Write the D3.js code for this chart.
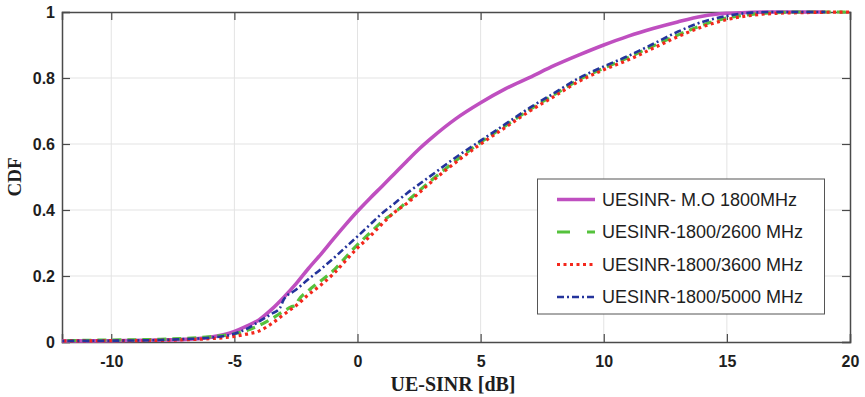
<!DOCTYPE html>
<html><head><meta charset="utf-8">
<script src="https://cdn.jsdelivr.net/npm/d3@7"></script>
<style>body{margin:0;background:#fff}svg{display:block}</style>
</head><body>
<svg id="chart" width="865" height="397"></svg>
<script>
// ---- data ----
const seriesNames = ["UESINR- M.O 1800MHz","UESINR-1800/2600 MHz","UESINR-1800/3600 MHz","UESINR-1800/5000 MHz"];
const xMO = [-13,-12,-10,-8,-7,-6,-5,-4.5,-4,-3.5,-3,-2.5,-2,-1.5,-1,-0.5,0,0.5,1,1.5,2,2.5,3,4,5,6,7,8,9,10,11,12,13,14,15,16,17,19];
const yMO = [0.002,0.003,0.004,0.006,0.008,0.014,0.032,0.048,0.067,0.098,0.135,0.176,0.222,0.265,0.31,0.354,0.396,0.435,0.472,0.51,0.548,0.585,0.618,0.677,0.725,0.767,0.802,0.838,0.87,0.9,0.927,0.95,0.97,0.987,0.996,0.999,1.0,1.0];
const x2600 = [-13,-12,-10,-8,-7,-6,-5,-4.5,-4,-3.5,-3,-2.7,-2.5,-2.4,-2,-1.5,-1.24,-1,-0.5,0,0.5,1,1.6,2,3,4,5,6,7,8,9,10,11,12,13,14,15,16,17,18,20];
const y2600 = [0.003,0.004,0.006,0.008,0.011,0.016,0.025,0.035,0.05,0.07,0.093,0.106,0.112,0.126,0.155,0.185,0.2,0.215,0.255,0.295,0.33,0.365,0.398,0.425,0.49,0.55,0.605,0.655,0.705,0.75,0.795,0.83,0.862,0.897,0.93,0.96,0.982,0.993,0.998,1.0,1.0];
const x3600 = [-13,-12,-10,-8,-7,-6,-5,-4.5,-4,-3.5,-3,-2.5,-2,-1.5,-1,-0.5,0,0.5,1,1.5,2,3,4,5,6,7,8,9,10,11,12,13,14,15,16,17,18,20];
const y3600 = [0.002,0.003,0.004,0.005,0.007,0.01,0.017,0.024,0.033,0.055,0.083,0.11,0.143,0.172,0.205,0.245,0.285,0.32,0.358,0.393,0.42,0.485,0.545,0.6,0.65,0.7,0.745,0.79,0.825,0.855,0.89,0.925,0.955,0.977,0.99,0.996,0.998,1.0];
const x5000 = [-13,-12,-10,-8,-7,-6,-5,-4.5,-4,-3.5,-3.15,-3.0,-2.5,-2,-1.5,-1,-0.5,0,0.5,1,1.5,2,3,4,5,6,7,8,9,10,11,12,13,14,15,16,17,19];
const y5000 = [0.002,0.003,0.004,0.006,0.009,0.013,0.025,0.04,0.062,0.085,0.103,0.128,0.158,0.19,0.22,0.252,0.286,0.32,0.355,0.39,0.42,0.45,0.505,0.56,0.61,0.66,0.71,0.755,0.8,0.835,0.867,0.903,0.94,0.97,0.988,0.998,1.0,1.0];
const xTicks = [-10,-5,0,5,10,15,20];
const yTicks = [0,0.2,0.4,0.6,0.8,1];
const xLabel = "UE-SINR [dB]";
const yLabel = "CDF";

// ---- layout ----
const svg = d3.select("#chart");
const L = 62, R = 850, T = 12, B = 342;
const x = d3.scaleLinear().domain([-12,20]).range([L,R]);
const y = d3.scaleLinear().domain([0,1]).range([B,T]);

svg.append("defs").append("clipPath").attr("id","clip")
  .append("rect").attr("x",L).attr("y",T-2).attr("width",R-L).attr("height",B-T+4);

// grid
const grid = svg.append("g");
grid.selectAll(".gx").data(xTicks.filter(d=>d>-12&&d<20)).enter().append("line")
  .attr("x1",d=>x(d)).attr("x2",d=>x(d)).attr("y1",T).attr("y2",B)
  .attr("stroke","#e3e3e3").attr("stroke-width",1);
grid.selectAll(".gy").data(yTicks.filter(d=>d>0&&d<1)).enter().append("line")
  .attr("y1",d=>y(d)).attr("y2",d=>y(d)).attr("x1",L).attr("x2",R)
  .attr("stroke","#e3e3e3").attr("stroke-width",1);

// axes
const axisColor = "#4a4a4a";
const fmtY = d => d===0?"0":(d===1?"1":d3.format(".1f")(d));
const gx = svg.append("g").attr("transform",`translate(0,${B})`)
  .call(d3.axisBottom(x).tickValues(xTicks).tickSize(-8).tickPadding(14).tickFormat(d=>String(d)));
const gy = svg.append("g").attr("transform",`translate(${L},0)`)
  .call(d3.axisLeft(y).tickValues(yTicks).tickSize(-8).tickPadding(7).tickFormat(fmtY));
const gxt = svg.append("g").attr("transform",`translate(0,${T})`)
  .call(d3.axisTop(x).tickValues(xTicks).tickSize(-8).tickFormat(""));
const gyr = svg.append("g").attr("transform",`translate(${R},0)`)
  .call(d3.axisRight(y).tickValues(yTicks).tickSize(-8).tickFormat(""));
[gx,gy,gxt,gyr].forEach(g=>{
  g.select(".domain").attr("stroke",axisColor).attr("stroke-width",1.5);
  g.selectAll(".tick line").attr("stroke",axisColor).attr("stroke-width",1.2);
  g.selectAll("text").attr("font-family","'Liberation Sans', Arial, sans-serif")
    .attr("font-weight","bold").attr("font-size",16).attr("fill","#1e1e1e");
});

// lines
const line = d3.line().x(d=>x(d[0])).y(d=>y(d[1])).curve(d3.curveMonotoneX);
const series = [
  {name:seriesNames[0], xs:xMO, ys:yMO, color:"#bf4fc0", w:3.6, dash:null, legDash:null},
  {name:seriesNames[1], xs:x2600, ys:y2600, color:"#55c23c", w:3.2, dash:"9,6", legDash:"13,17"},
  {name:seriesNames[2], xs:x3600, ys:y3600, color:"#f4271c", w:3.2, dash:"3,3.5", legDash:"3,3.5"},
  {name:seriesNames[3], xs:x5000, ys:y5000, color:"#24349c", w:2.6, dash:"7,3,2,3", legDash:"7,3,2,3"}
];
const plot = svg.append("g").attr("clip-path","url(#clip)");
series.forEach(s=>{
  plot.append("path").datum(s.xs.map((v,i)=>[v,s.ys[i]]))
    .attr("d",line).attr("fill","none").attr("stroke",s.color)
    .attr("stroke-width",s.w).attr("stroke-dasharray",s.dash);
});

// axis labels
svg.append("text").attr("x",(L+R)/2-3).attr("y",391).attr("text-anchor","middle")
  .attr("font-family","'Liberation Serif','Times New Roman',serif").attr("font-weight","bold")
  .attr("font-size",20).attr("fill","#1e1e1e").text(xLabel);
svg.append("text").attr("transform",`translate(21,${(T+B)/2}) rotate(-90)`).attr("text-anchor","middle")
  .attr("font-family","'Liberation Serif','Times New Roman',serif").attr("font-weight","bold")
  .attr("font-size",19).attr("fill","#1e1e1e").text(yLabel);

// legend
const lg = svg.append("g");
lg.append("rect").attr("x",537.5).attr("y",179).attr("width",287).attr("height",135)
  .attr("fill","#fff").attr("stroke","#555").attr("stroke-width",1);
series.forEach((s,i)=>{
  const cy = 199.5 + i*32.5;
  lg.append("line").attr("x1",557).attr("x2",595).attr("y1",cy).attr("y2",cy)
    .attr("stroke",s.color).attr("stroke-width",s.w).attr("stroke-dasharray",s.legDash);
  lg.append("text").attr("x",602).attr("y",cy).attr("dy","0.35em")
    .attr("font-family","'Liberation Sans', Arial, sans-serif").attr("font-size",18)
    .attr("fill","#1e1e1e").text(s.name);
});
</script>
</body></html>
